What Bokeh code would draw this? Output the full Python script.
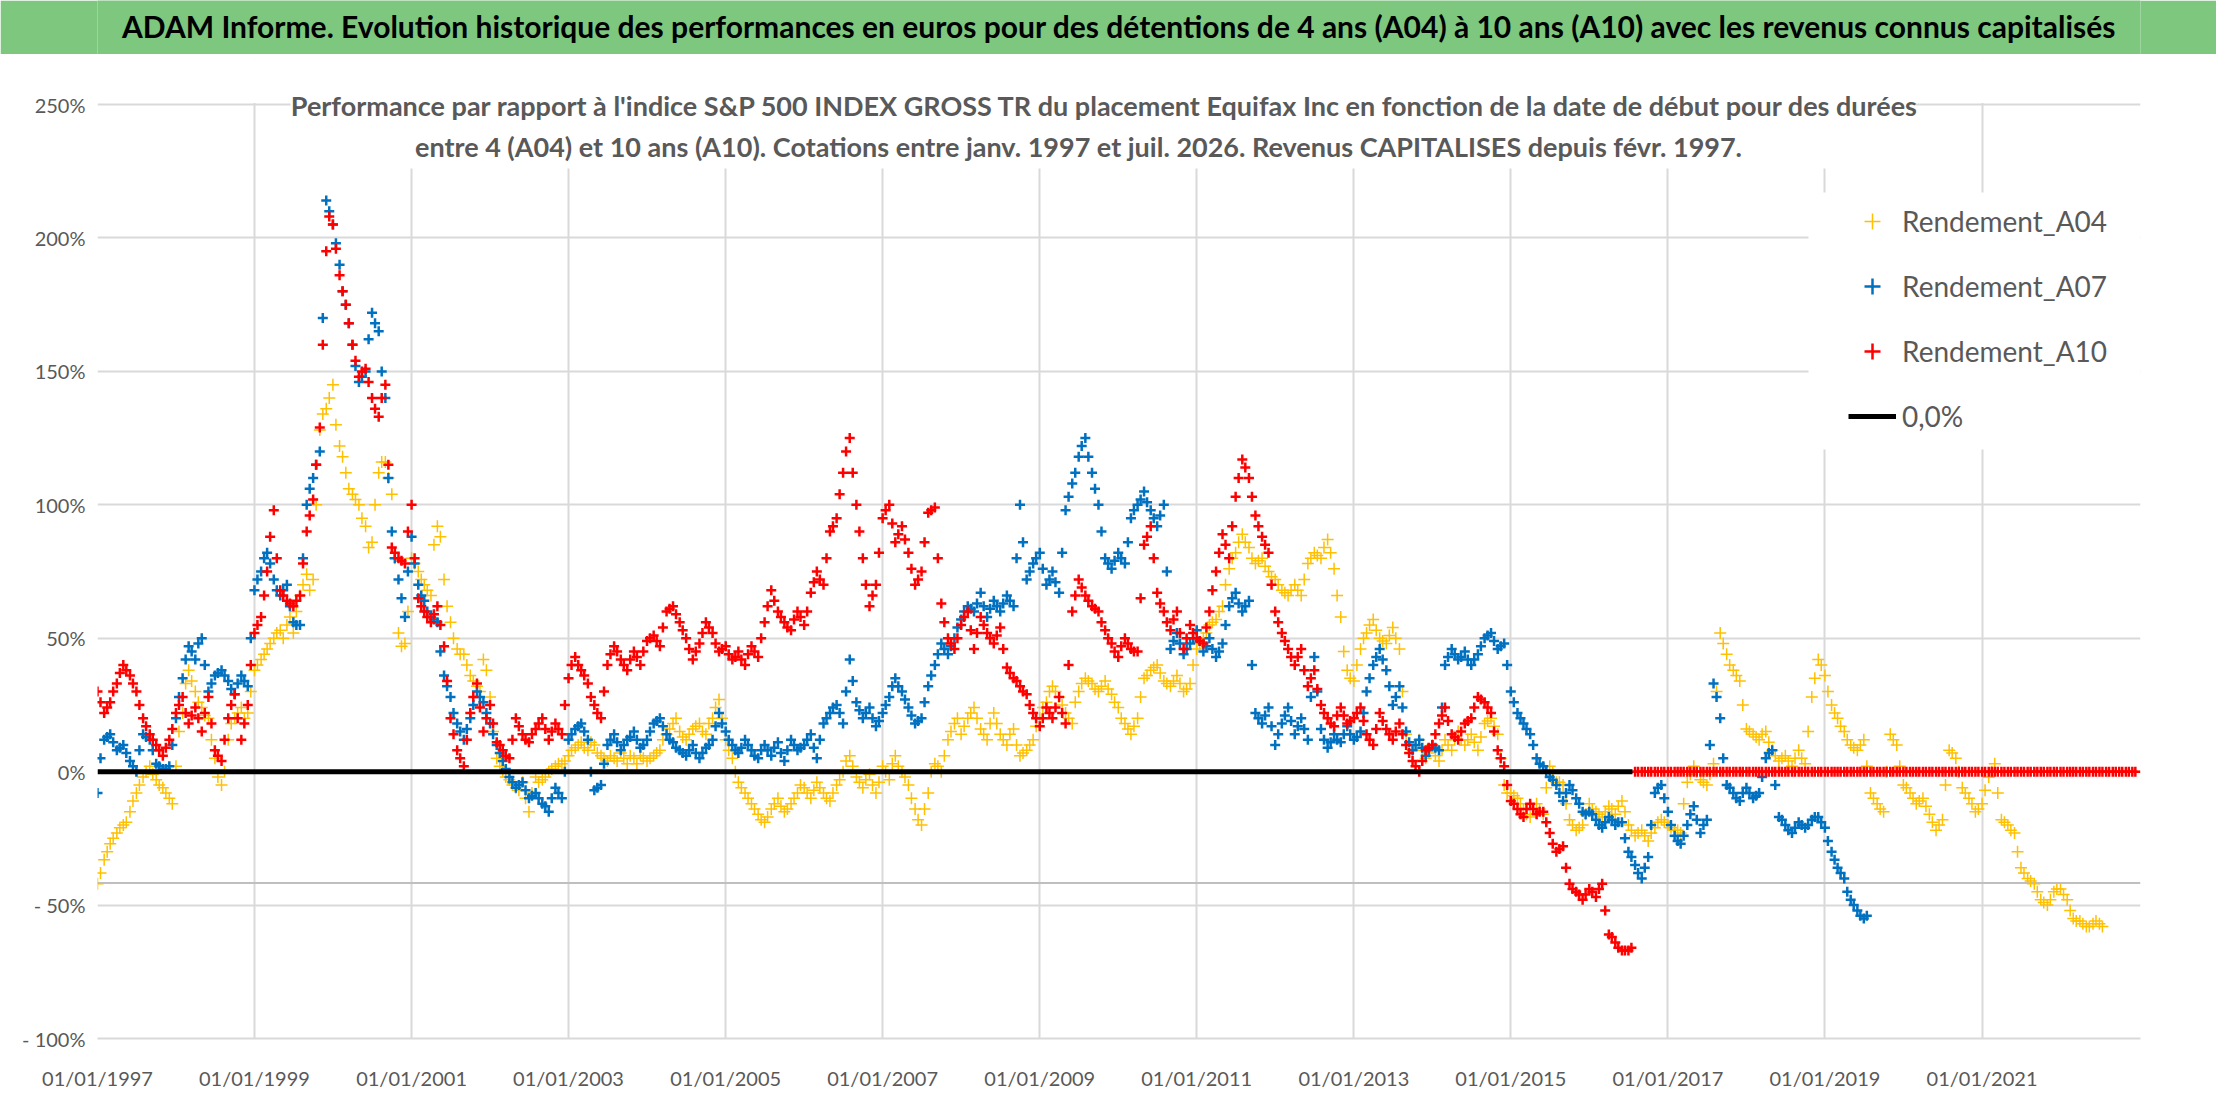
import pandas as pd
from bokeh.plotting import figure
from bokeh.layouts import column
from bokeh.models import (Range1d, FixedTicker, DatetimeTickFormatter, Legend, LegendItem,
                          BoxAnnotation, Label, Span, ColumnDataSource)
from bokeh.embed import file_html
from bokeh.resources import INLINE

FONT = "Lato"
GRIS = "#595959"

titre = ("ADAM Informe. Evolution historique des performances en euros pour des détentions "
         "de 4 ans (A04) à 10 ans (A10) avec les revenus connus capitalisés")
sous_titre_1 = ("Performance par rapport à l'indice S&P 500 INDEX GROSS TR  du placement Equifax Inc "
                "en fonction de la date de début pour des durées")
sous_titre_2 = ("entre 4 (A04) et 10 ans (A10). Cotations entre janv. 1997 et juil. 2026. "
                "Revenus CAPITALISES depuis févr. 1997.")

noms = ["Rendement_A04", "Rendement_A07", "Rendement_A10", "0,0%"]
couleurs = ["#FFC000", "#0070C0", "#FF0000", "#000000"]

annees_ticks = list(range(1997, 2022, 2))
y_ticks = [-100, -50, 0, 50, 100, 150, 200, 250]
y_labels = ["- 100%", "- 50%", "0%", "50%", "100%", "150%", "200%", "250%"]
ligne_grise = -41.75  # trait gris sous -50%

# valeurs (%), le 1er et le 15 de chaque mois, une ligne par année
debut = "1997-01-01"
rendement_a04 = [
    -42, -33, -27, -23, -20, -15, -8, -2, 2, -3, -6, -10,
    2, 22, 38, 30, 24, 20, 5, -5, 12, 20, 24, 22,
    38, 42, 46, 50, 53, 55, 52, 66, 74, 72, 128, 136,
    145, 122, 112, 104, 100, 92, 86, 112, 116, 104, 52, 48,
    80, 75, 70, 66, 92, 72, 56, 46, 44, 36, 32, 42,
    28, 5, 0, -3, -6, -4, -15, -2, -3, 0, 2, 3,
    6, 9, 11, 8, 10, 6, 4, 5, 7, 3, 5, 6,
    4, 6, 8, 14, 18, 15, 12, 16, 18, 14, 20, 27,
    12, 5, -4, -8, -12, -16, -19, -14, -10, -15, -12, -8,
    -6, -10, -4, -8, -11, -5, 0, 6, -2, -6, -1, -8,
    2, -3, 6, 0, -5, -14, -20, -8, 3, 0, 12, 18,
    14, 20, 24, 16, 12, 22, 14, 10, 16, 6, 8, 12,
    20, 26, 32, 28, 22, 18, 30, 35, 33, 30, 34, 29,
    24, 18, 14, 20, 35, 38, 40, 34, 32, 36, 30, 33,
    46, 50, 55, 57, 62, 76, 82, 89, 84, 78, 80, 75,
    72, 68, 66, 70, 66, 78, 82, 80, 87, 76, 58, 38,
    34, 46, 52, 57, 50, 48, 54, 46, 14, 8, 12, 5,
    10, 4, 12, 8, 15, 10, 14, 8, 18, 20, 14, -5,
    -8, -10, -14, -17, -12, -16, 2, -4, -5, -18, -22, -20,
    -12, -15, -17, -13, -16, -11, -20, -24, -22, -26, -21, -18,
    -20, -22, -23, -4, 2, -3, -5, 3, 52, 44, 38, 34,
    16, 14, 12, 15, 8, 4, 6, 2, 8, 3, 28, 42,
    36, 25, 20, 15, 10, 8, 12, -8, -12, -15, 14, 10,
    -5, -8, -12, -10, -16, -22, -18, 8, 5, -6, -10, -15,
    -12, -2, 3, -18, -20, -23, -36, -40, -42, -48, -50, -45,
    -44, -48, -55, -56, -58, -57, -57,
]
rendement_a04_mi = [
    -38, -30, -25, -21, -19, -11, -5, 0, -1, -5, -8, -12,
    15, 33, 34, 26, 21, 12, -2, 0, 18, 22, 20, 30,
    40, 44, 48, 52, 50, 58, 60, 70, 68, 100, 134, 140,
    130, 118, 106, 102, 95, 84, 100, 116, 110, 80, 47, 60,
    78, 72, 68, 85, 88, 62, 50, 44, 40, 34, 30, 38,
    15, 2, -2, -5, -7, -10, -8, -4, -2, 1, 3, 4,
    8, 10, 9, 11, 7, 5, 6, 4, 5, 6, 3, 5,
    5, 7, 12, 16, 20, 13, 14, 17, 15, 18, 24, 20,
    8, 0, -6, -10, -14, -18, -17, -12, -13, -14, -10, -5,
    -8, -7, -6, -10, -8, -3, 4, 2, -4, -3, -5, -4,
    0, 3, 2, -2, -10, -18, -14, 0, 2, 6, 15, 20,
    17, 22, 20, 14, 18, 18, 12, 14, 10, 7, 10, 17,
    24, 30, 30, 25, 20, 26, 33, 34, 31, 32, 31, 26,
    20, 16, 17, 28, 36, 39, 37, 33, 34, 33, 31, 40,
    48, 52, 56, 60, 70, 80, 86, 86, 80, 79, 77, 73,
    70, 67, 68, 68, 72, 80, 81, 84, 82, 66, 45, 35,
    40, 50, 55, 53, 49, 51, 50, 30, 10, 10, 8, 7,
    6, 8, 10, 12, 12, 12, 11, 13, 19, 17, 5, -8,
    -9, -12, -16, -14, -14, -6, 0, -4, -12, -20, -21, -16,
    -14, -16, -15, -14, -13, -15, -22, -23, -24, -23, -19, -19,
    -21, -22, -12, -1, 0, -4, -1, 30, 48, 40, 36, 25,
    15, 13, 14, 11, 6, 5, 4, 5, 5, 15, 35, 40,
    30, 22, 17, 12, 9, 10, 2, -10, -14, 0, 12, 2,
    -6, -10, -11, -13, -19, -20, -5, 7, 0, -8, -12, -14,
    -7, 0, -8, -19, -22, -30, -38, -41, -45, -49, -48, -44,
    -46, -52, -56, -57, -58, -56, -58,
]
rendement_a07 = [
    -8, 12, 14, 8, 10, 4, 0, 14, 12, 3, 1, 2,
    20, 35, 47, 42, 50, 30, 36, 38, 34, 29, 36, 32,
    68, 75, 82, 72, 66, 70, 56, 55, 100, 110, 120, 214,
    205, 190, 175, 160, 146, 150, 172, 165, 140, 90, 72, 58,
    88, 70, 64, 58, 56, 36, 28, 18, 12, 20, 30, 26,
    18, 10, 4, -2, -6, -4, -10, -8, -12, -15, -6, -10,
    12, 16, 18, 12, -7, -5, 10, 14, 8, 12, 15, 9,
    12, 18, 20, 14, 11, 8, 6, 10, 5, 9, 12, 22,
    15, 10, 7, 12, 8, 5, 10, 6, 11, 4, 12, 8,
    10, 14, 5, 18, 22, 25, 18, 42, 26, 20, 24, 17,
    22, 28, 35, 30, 24, 18, 20, 32, 40, 48, 44, 50,
    57, 62, 60, 67, 58, 64, 60, 66, 62, 100, 72, 78,
    82, 70, 75, 67, 98, 108, 118, 125, 112, 100, 80, 76,
    82, 78, 95, 100, 105, 98, 92, 100, 46, 52, 44, 48,
    53, 45, 50, 43, 48, 62, 67, 60, 64, 22, 18, 24,
    10, 18, 24, 14, 20, 12, 43, 16, 9, 14, 11, 17,
    12, 15, 30, 40, 46, 38, 25, 32, 15, 8, 12, 6,
    10, 8, 40, 46, 42, 45, 40, 44, 50, 52, 46, 48,
    30, 22, 18, 14, 5, 2, -2, -5, -11, -5, -10, -15,
    -15, -18, -21, -17, -20, -19, -30, -35, -40, -32, -8, -5,
    -15, -24, -27, -20, -13, -23, -18, 33, 20, -5, -8, -11,
    -6, -10, -8, 5, 8, -17, -20, -23, -19, -21, -18, -17,
    -21, -30, -36, -40, -48, -52, -55,
]
rendement_a07_mi = [
    5, 13, 11, 9, 7, 2, 8, 13, 8, 2, 1, 10,
    28, 42, 45, 48, 40, 33, 37, 36, 31, 33, 34, 50,
    72, 80, 78, 68, 68, 62, 55, 80, 106, 115, 170, 210,
    198, 180, 168, 152, 148, 162, 168, 150, 110, 80, 65, 75,
    78, 66, 60, 57, 45, 32, 22, 15, 16, 25, 28, 22,
    14, 7, 1, -4, -5, -7, -9, -10, -13, -10, -8, 0,
    14, 17, 15, 0, -6, 3, 12, 11, 10, 13, 12, 10,
    15, 19, 17, 12, 9, 7, 8, 7, 7, 10, 17, 18,
    12, 8, 9, 10, 6, 8, 8, 9, 7, 8, 10, 9,
    12, 9, 12, 20, 24, 22, 30, 34, 23, 22, 20, 19,
    25, 32, 32, 27, 21, 19, 26, 36, 44, 46, 47, 54,
    60, 61, 63, 62, 61, 62, 63, 64, 80, 86, 75, 80,
    76, 72, 71, 82, 103, 112, 122, 118, 106, 90, 78, 79,
    80, 86, 98, 102, 101, 95, 96, 75, 49, 48, 46, 50,
    49, 47, 46, 45, 55, 65, 63, 62, 40, 20, 21, 17,
    14, 21, 19, 17, 16, 28, 30, 12, 11, 12, 14, 14,
    13, 22, 35, 43, 42, 32, 28, 24, 11, 10, 9, 8,
    9, 24, 43, 44, 43, 42, 42, 47, 51, 49, 47, 40,
    26, 20, 16, 10, 3, 0, -3, -8, -8, -7, -12, -16,
    -16, -20, -19, -18, -19, -25, -32, -38, -36, -20, -6, -10,
    -20, -26, -24, -16, -18, -20, 10, 28, 5, -6, -10, -8,
    -8, -9, -2, 7, -5, -18, -22, -21, -20, -20, -17, -19,
    -26, -33, -38, -45, -50, -54, -54,
]
rendement_a10 = [
    30, 22, 26, 33, 40, 36, 30, 20, 14, 10, 6, 12,
    22, 28, 18, 24, 15, 28, 8, 4, 20, 29, 12, 25,
    52, 58, 75, 98, 68, 64, 62, 66, 90, 102, 129, 195,
    205, 186, 175, 160, 148, 151, 140, 133, 145, 84, 80, 78,
    100, 65, 60, 56, 62, 47, 20, 8, 2, 22, 33, 15,
    25, 11, 8, 5, 20, 14, 11, 16, 20, 12, 18, 14,
    35, 43, 38, 33, 25, 20, 40, 47, 42, 38, 45, 40,
    49, 51, 47, 60, 62, 56, 50, 42, 48, 56, 52, 45,
    47, 42, 45, 40, 47, 43, 56, 68, 60, 56, 53, 60,
    55, 67, 75, 70, 90, 95, 112, 125, 100, 80, 62, 70,
    95, 100, 86, 92, 82, 70, 75, 97, 99, 63, 50, 46,
    55, 60, 46, 58, 52, 48, 54, 39, 35, 32, 29, 22,
    17, 24, 20, 28, 18, 60, 72, 66, 62, 60, 53, 48,
    43, 50, 46, 45, 85, 92, 67, 60, 53, 60, 46, 55,
    50, 48, 60, 75, 89, 80, 103, 117, 110, 96, 88, 82,
    60, 52, 46, 40, 46, 32, 38, 25, 20, 17, 24, 18,
    20, 24, 14, 10, 22, 16, 12, 18, 10, 4, 0, 8,
    10, 18, 24, 14, 12, 18, 20, 28, 26, 22, 8, 2,
    -11, -14, -17, -12, -16, -15, -23, -30, -28, -42, -45, -48,
    -44, -47, -42, -61, -64, -67, -67,
] + [0] * 77  # à 0 d'août 2016 à décembre 2022
rendement_a10_mi = [
    26, 24, 30, 37, 38, 33, 25, 17, 12, 8, 9, 16,
    25, 22, 21, 20, 22, 18, 6, 12, 25, 20, 18, 40,
    55, 66, 88, 80, 66, 63, 64, 78, 96, 115, 160, 208,
    196, 180, 168, 154, 150, 146, 136, 140, 115, 82, 79, 90,
    80, 62, 58, 59, 55, 34, 14, 5, 12, 28, 24, 20,
    18, 10, 6, 12, 17, 12, 14, 18, 16, 15, 16, 25,
    40, 40, 36, 28, 22, 30, 44, 45, 40, 42, 43, 45,
    50, 49, 54, 61, 59, 53, 46, 45, 52, 54, 48, 46,
    44, 43, 42, 44, 45, 50, 62, 64, 58, 54, 57, 58,
    60, 71, 72, 80, 92, 104, 120, 112, 90, 70, 66, 82,
    98, 93, 89, 87, 76, 72, 86, 98, 80, 56, 48, 50,
    58, 53, 52, 55, 50, 51, 46, 37, 34, 30, 25, 20,
    20, 22, 24, 22, 40, 66, 69, 64, 61, 56, 50, 45,
    47, 48, 45, 65, 88, 80, 63, 56, 57, 52, 50, 52,
    49, 54, 68, 82, 85, 92, 110, 114, 103, 92, 85, 70,
    56, 49, 43, 43, 38, 35, 31, 22, 18, 21, 21, 19,
    22, 19, 12, 16, 19, 14, 15, 14, 7, 2, 4, 9,
    14, 21, 19, 13, 15, 19, 24, 27, 24, 15, 5, -5,
    -12, -16, -14, -14, -15, -19, -27, -29, -36, -44, -46, -46,
    -45, -44, -52, -62, -66, -67, -66,
] + [0] * 77

assert len(rendement_a04) == len(rendement_a04_mi) == 307
assert len(rendement_a07) == len(rendement_a07_mi) == 271
assert len(rendement_a10) == len(rendement_a10_mi) == 312

ligne_zero_dates = ["1997-01-01", "2016-07-20"]
ligne_zero = [0, 0]


def source(vals, vals_mi):
    d1 = pd.date_range(debut, periods=len(vals), freq="MS")
    d2 = pd.date_range(debut, periods=len(vals_mi), freq="MS") + pd.Timedelta(days=14)
    return ColumnDataSource(dict(x=list(d1) + list(d2), y=list(vals) + list(vals_mi)))


LARGEUR = 2216

# bandeau vert
b = figure(width=LARGEUR, height=54, x_range=Range1d(0, 1), y_range=Range1d(0, 1),
           output_backend="svg", toolbar_location=None, min_border=0)
b.xaxis.visible = False
b.yaxis.visible = False
b.grid.visible = False
b.outline_line_color = None
b.background_fill_color = "#7DC77F"
b.border_fill_color = "#7DC77F"
b.add_layout(Label(x=0.5, y=0.52, text=titre, text_align="center", text_baseline="middle",
                   text_font=FONT, text_font_style="bold", text_font_size="30px",
                   text_color="black"))

# cadre étendu au-dessus de 250 % pour loger le sous-titre
y_haut = 266.5
p = figure(width=LARGEUR, height=1048, x_axis_type="datetime",
           x_range=Range1d(pd.Timestamp("1997-01-01"), pd.Timestamp("2023-01-08")),
           y_range=Range1d(-100, y_haut),
           output_backend="svg", toolbar_location=None,
           min_border_left=97, min_border_right=76, min_border_top=6, min_border_bottom=64)
p.outline_line_color = None
p.background_fill_color = "white"

p.xaxis.ticker = FixedTicker(ticks=[pd.Timestamp(f"{a}-01-01").timestamp() * 1000 for a in annees_ticks])
fmt = "%d/%m/%Y"
p.xaxis.formatter = DatetimeTickFormatter(days=fmt, months=fmt, years=fmt)
p.yaxis.ticker = FixedTicker(ticks=y_ticks)
p.yaxis.major_label_overrides = {t: l for t, l in zip(y_ticks, y_labels)}

for ax in (p.xaxis[0], p.yaxis[0]):
    ax.major_tick_line_color = None
    ax.minor_tick_line_color = None
    ax.major_tick_out = 0
    ax.major_tick_in = 0
    ax.minor_tick_out = 0
    ax.major_label_text_font = FONT
    ax.major_label_text_font_size = "20px"
    ax.major_label_text_color = GRIS
p.xaxis.axis_line_color = "#D9D9D9"
p.xaxis.axis_line_width = 2
p.xaxis.major_label_standoff = 27
p.yaxis.axis_line_color = None
p.yaxis.major_label_standoff = 12
p.grid.grid_line_color = "#D9D9D9"
p.grid.grid_line_width = 2

p.add_layout(Span(location=ligne_grise, dimension="width", line_color="#BFBFBF",
                  line_width=2, level="underlay"))

r04 = p.scatter("x", "y", source=source(rendement_a04, rendement_a04_mi), marker="cross",
                size=12, line_color=couleurs[0], line_width=1.5)
r07 = p.scatter("x", "y", source=source(rendement_a07, rendement_a07_mi), marker="cross",
                size=10, line_color=couleurs[1], line_width=2.5)
r10 = p.scatter("x", "y", source=source(rendement_a10, rendement_a10_mi), marker="cross",
                size=10, line_color=couleurs[2], line_width=2.5)
r0 = p.line(pd.to_datetime(ligne_zero_dates), ligne_zero, line_color=couleurs[3], line_width=5)


def cache(left, right, bottom, top):
    p.add_layout(BoxAnnotation(left=left, right=right, top=top, bottom=bottom,
                               left_units="screen", right_units="screen",
                               top_units="screen", bottom_units="screen",
                               fill_color="white", fill_alpha=1, line_color=None))


# au-dessus de 250 %, derrière le sous-titre et derrière la légende
cache(0, 2043, 935.5, 990)
cache(193, 1818, 870, 990)
cache(1711, 2043, 589, 846)

for txt, x, y in ((sous_titre_1, 1011, 933), (sous_titre_2, 981, 892)):
    p.add_layout(Label(x=x, y=y, x_units="screen", y_units="screen", text=txt,
                       text_align="center", text_baseline="middle", text_font=FONT,
                       text_font_style="bold", text_font_size="27px", text_color=GRIS))

legend = Legend(items=[LegendItem(label=n, renderers=[r]) for n, r in zip(noms, [r04, r07, r10, r0])],
                location=(1751, 602), label_text_font=FONT, label_text_font_size="28px",
                label_text_color=GRIS, background_fill_alpha=0, border_line_color=None,
                glyph_width=48, glyph_height=40, spacing=25, padding=8, label_standoff=6, margin=0)
p.add_layout(legend)

page = column(b, p, spacing=0)
open("out.html", "w").write(file_html(page, INLINE))
